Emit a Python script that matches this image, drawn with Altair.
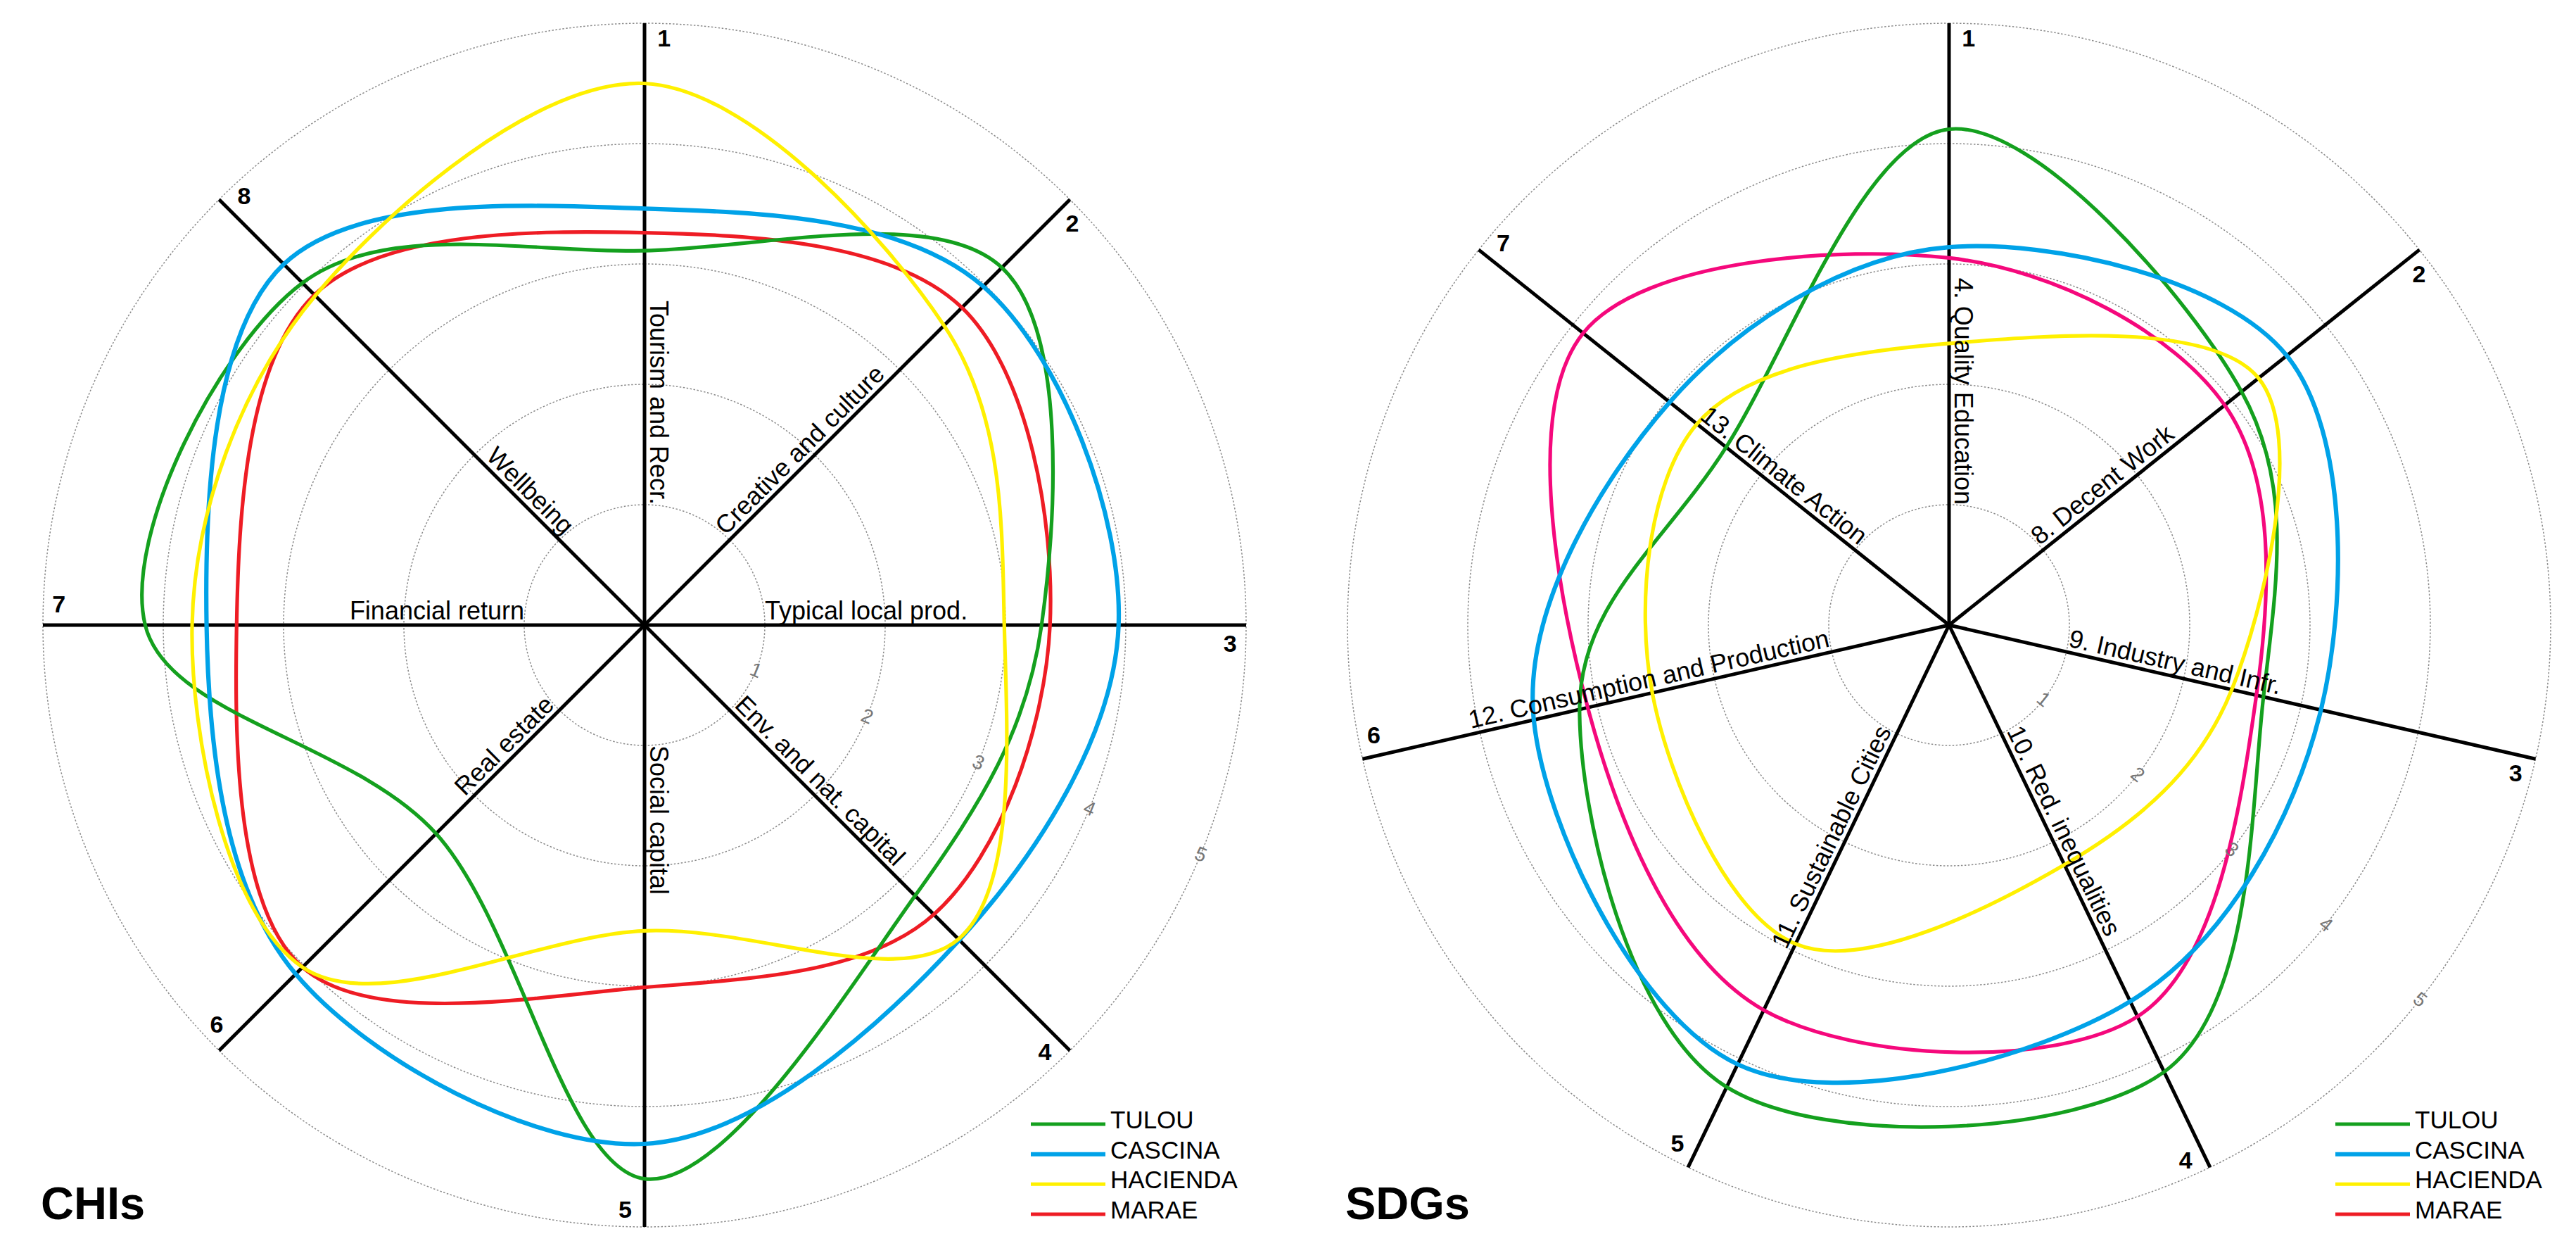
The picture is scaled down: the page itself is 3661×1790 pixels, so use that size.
import altair as alt
import pandas as pd

# ---------------- data ----------------
SITES = ["TULOU", "CASCINA", "HACIENDA", "MARAE"]
RINGS = [1, 2, 3, 4, 5]
TITLES = ["CHIs", "SDGs"]

CHI_LABELS = ["Tourism and Recr.", "Creative and culture", "Typical local prod.",
              "Env. and nat. capital", "Social capital", "Real estate",
              "Financial return", "Wellbeing"]
CHI_TULOU = [3.11, 4.20, 3.30, 3.18, 4.60, 2.45, 4.15, 4.02]
CHI_CASCINA = [3.46, 3.98, 3.94, 3.70, 4.31, 4.10, 3.64, 4.24]
CHI_HACIENDA = [4.50, 3.52, 2.99, 3.69, 2.54, 4.02, 3.76, 3.87]
CHI_MARAE = [3.26, 3.73, 3.37, 3.40, 3.01, 4.02, 3.39, 3.88]

SDG_LABELS = ["4. Quality Education", "8. Decent Work", "9. Industry and Infr.",
              "10. Red. inequalities", "11. Sustainable Cities",
              "12. Consumption and Production", "13. Climate Action"]
SDG_TULOU = [4.12, 3.11, 2.68, 4.12, 4.26, 3.15, 2.37]
SDG_CASCINA = [3.14, 3.59, 3.17, 3.47, 4.05, 3.54, 2.97]
SDG_HACIENDA = [2.34, 3.29, 2.41, 2.21, 2.94, 2.53, 2.68]
SDG_MARAE = [3.05, 2.93, 2.62, 3.61, 3.55, 3.08, 3.89]

# ---------------- style ----------------
GREEN, BLUE, YELLOW, RED, PINK = "#14a01e", "#00a2e8", "#fff000", "#ee1c24", "#f5087c"
LEGEND_COLORS = [GREEN, BLUE, YELLOW, RED]
CHI_COLORS = [GREEN, BLUE, YELLOW, RED]
SDG_COLORS = [GREEN, BLUE, YELLOW, PINK]
LINE_WIDTHS = [5.2, 6.2, 5.2, 5.2]
DRAW_ORDER = ["MARAE", "TULOU", "CASCINA", "HACIENDA"]
FONT = "Liberation Sans"

H = 1774          # panel height
CY = 880          # centre y inside a panel (px)
UNIT = 171.0      # px per score unit
RMAX = max(RINGS)


def panel(title, labels, series, colors, W, CX):
    xs = alt.Scale(domain=[-CX / UNIT, (W - CX) / UNIT], nice=False, zero=False)
    ys = alt.Scale(domain=[-(H - CY) / UNIT, CY / UNIT], nice=False, zero=False)

    def X(f):
        return alt.X(f, type="quantitative", scale=xs, axis=None)

    def Y(f):
        return alt.Y(f, type="quantitative", scale=ys, axis=None)

    n = len(labels)
    step = 360.0 / n

    rows = []
    for site, vals, col, w in zip(SITES, series, colors, LINE_WIDTHS):
        for k, v in enumerate(vals):
            rows.append(dict(site=site, k=k, v=v, col=col, w=w))
    curves_df = pd.DataFrame(rows)
    curves_df["o"] = curves_df["site"].map({s: i for i, s in enumerate(DRAW_ORDER)})
    curves_df = curves_df.sort_values(["o", "k"])

    axes_df = pd.DataFrame({"k": list(range(n)),
                            "num": [str(i + 1) for i in range(n)],
                            "label": labels})
    rings_df = pd.DataFrame({"r": RINGS, "txt": [str(r) for r in RINGS]})
    leg_df = pd.DataFrame({"site": SITES, "rank": list(range(len(SITES))),
                           "col": LEGEND_COLORS, "w": [5, 6, 5, 5]})

    rings = alt.Chart(rings_df).transform_calculate(
        a="sequence(0, 360.5, 1)"
    ).transform_flatten(["a"]).transform_calculate(
        px="datum.r*sin(datum.a*PI/180)", py="datum.r*cos(datum.a*PI/180)"
    ).mark_line(stroke="#8a8a8a", strokeWidth=1.5, strokeDash=[2.5, 2.5]).encode(
        x=X("px"), y=Y("py"), detail="r:N", order="a:Q"
    )

    spokes = alt.Chart(axes_df).transform_calculate(
        t=f"datum.k*{step}*PI/180", x0="0", y0="0",
        x1=f"{RMAX}*sin(datum.t)", y1=f"{RMAX}*cos(datum.t)"
    ).mark_rule(color="black", strokeWidth=5).encode(
        x=X("x0"), y=Y("y0"), x2="x1:Q", y2="y1:Q"
    )

    curves = alt.Chart(curves_df).transform_calculate(
        t=f"datum.k*{step}*PI/180",
        px="datum.v*sin(datum.t)", py="datum.v*cos(datum.t)"
    ).mark_line(interpolate="cardinal-closed").encode(
        x=X("px"), y=Y("py"),
        color=alt.Color("col:N", scale=None),
        strokeWidth=alt.StrokeWidth("w:Q", scale=None),
        detail="site:N", order="k:Q"
    )

    base_lab = alt.Chart(axes_df).transform_calculate(
        deg=f"datum.k*{step}",
        px="sin(datum.deg*PI/180)", py="cos(datum.deg*PI/180)",
        outward="datum.deg > 0 && datum.deg <= 180",
        ang="datum.outward ? (datum.deg - 90 + 360) % 360 : (datum.deg - 270 + 720) % 360"
    )
    lab_out = base_lab.transform_filter("datum.outward").mark_text(
        align="left", baseline="alphabetic", dy=-8, fontSize=36, font=FONT, color="black"
    ).encode(x=X("px"), y=Y("py"), text="label:N", angle=alt.Angle("ang:Q", scale=None))
    lab_in = base_lab.transform_filter("!datum.outward").mark_text(
        align="right", baseline="alphabetic", dy=-8, fontSize=36, font=FONT, color="black"
    ).encode(x=X("px"), y=Y("py"), text="label:N", angle=alt.Angle("ang:Q", scale=None))

    nums = alt.Chart(axes_df).transform_calculate(
        t=f"(datum.k*{step} + 1.9)*PI/180",
        px="4.87*sin(datum.t)", py="4.87*cos(datum.t)"
    ).mark_text(fontSize=34, fontWeight="bold", font=FONT, color="black",
                align="center", baseline="middle").encode(
        x=X("px"), y=Y("py"), text="num:N"
    )

    mid = 2.5 * step
    ticks = alt.Chart(rings_df).transform_calculate(
        px=f"datum.r*sin({mid}*PI/180)", py=f"datum.r*cos({mid}*PI/180)"
    ).mark_text(fontSize=28, font=FONT, color="#777777", align="center",
                baseline="middle", angle=mid - 90).encode(
        x=X("px"), y=Y("py"), text="txt:N"
    )

    ttl = alt.Chart(pd.DataFrame({"t": [title]})).mark_text(
        fontSize=65, fontWeight="bold", font=FONT, color="black",
        align="left", baseline="alphabetic"
    ).encode(x=alt.value(CX - 858), y=alt.value(1724), text="t:N")

    LY = alt.Y("rank:Q", scale=alt.Scale(domain=[0, 3], range=[1589, 1717]), axis=None)
    leg_lines = alt.Chart(leg_df).mark_rule().encode(
        x=alt.value(CX + 549), x2=alt.value(CX + 655), y=LY,
        color=alt.Color("col:N", scale=None),
        strokeWidth=alt.StrokeWidth("w:Q", scale=None)
    )
    leg_text = alt.Chart(leg_df).mark_text(
        align="left", baseline="alphabetic", dy=6, fontSize=35, font=FONT, color="black"
    ).encode(x=alt.value(CX + 662), y=LY, text="site:N")

    return alt.layer(
        rings, spokes, curves, ticks, lab_out, lab_in, nums, ttl, leg_lines, leg_text
    ).resolve_scale(y="independent").properties(width=W, height=H)


# page: 8px margin, left panel starts at x=8, right panel at 8+1830+8=1846
left = panel(TITLES[0], CHI_LABELS, [CHI_TULOU, CHI_CASCINA, CHI_HACIENDA, CHI_MARAE],
             CHI_COLORS, W=1830, CX=908)
right = panel(TITLES[1], SDG_LABELS, [SDG_TULOU, SDG_CASCINA, SDG_HACIENDA, SDG_MARAE],
              SDG_COLORS, W=1805, CX=924)

chart = alt.hconcat(left, right, spacing=8).properties(
    padding=0, background="white"
).configure_view(strokeWidth=0)

chart.save("out.html", embed_options={"renderer": "svg", "actions": False})
